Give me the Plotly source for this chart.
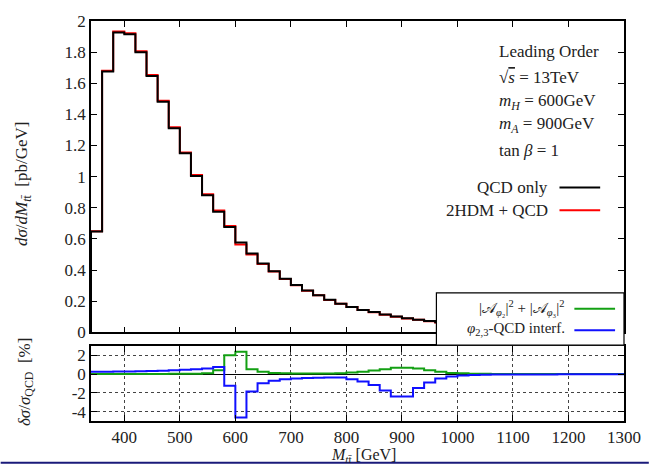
import plotly.graph_objects as go

# ---- data ----
bin_edges = [340 + 20 * k for k in range(49)]
qcd_only = [0.647, 1.676, 1.926, 1.915, 1.800, 1.647, 1.482, 1.311, 1.150, 1.004,
            0.880, 0.774, 0.677, 0.577, 0.507, 0.442, 0.393, 0.344, 0.304, 0.268,
            0.239, 0.209, 0.184, 0.163, 0.144, 0.130, 0.114, 0.101, 0.091, 0.081,
            0.072, 0.064, 0.057, 0.051, 0.045, 0.040, 0.036, 0.032, 0.028, 0.025,
            0.022, 0.020, 0.018, 0.016, 0.014, 0.012, 0.011, 0.010]
green_sq = [0.02, 0.02, 0.02, 0.02, 0.03, 0.03, 0.03, 0.04, 0.05, 0.06,
            0.10, 0.42, 2.03, 2.39, 0.53, 0.25, 0.14, 0.10, 0.08, 0.07,
            0.07, 0.08, 0.10, 0.18, 0.25, 0.39, 0.53, 0.70, 0.70, 0.60,
            0.42, 0.25, 0.14, 0.10, 0.06, 0.04,
            0.03, 0.03, 0.02, 0.02, 0.02, 0.02, 0.01, 0.01, 0.01, 0.01, 0.01, 0.01]
blue_interf = [0.25, 0.26, 0.28, 0.30, 0.32, 0.35, 0.38, 0.42, 0.47, 0.53, 0.62, 0.78,
               -1.23, -4.63, -1.86, -0.98, -0.70, -0.53, -0.45, -0.40, -0.37, -0.35, -0.36,
               -0.53, -0.77, -1.16, -1.75, -2.39, -2.39, -1.47, -0.88, -0.46, -0.25, -0.14, -0.08, -0.05,
               -0.04, -0.03, -0.03, -0.02, -0.02, -0.02, -0.01, -0.01, -0.01, -0.01, -0.01, 0.0]
two_hdm = [q * (1 + (g + b) / 100.0) for q, g, b in zip(qcd_only, green_sq, blue_interf)]

x_ticks = [400, 500, 600, 700, 800, 900, 1000, 1100, 1200, 1300]
y_ticks_top = [0, 0.2, 0.4, 0.6, 0.8, 1, 1.2, 1.4, 1.6, 1.8, 2]
y_ticks_bot = [2, 0, -2, -4]
y_ticklabels_bot = ["2", "0", "-2", "-4"]

FONT = "Liberation Serif"
TXT = "#222222"

# ---- geometry helpers (pixels -> paper) ----
L, R, T, B = 91, 25, 15, 44
W, H = 653, 465
PW, PH = W - L - R, H - T - B
def px(x):
    return (x - L) / PW
def py(y):
    return (H - B - y) / PH

def step(vals, start_zero=False):
    xs = list(bin_edges)
    ys = list(vals) + [vals[-1]]
    if start_zero:
        xs = [bin_edges[0]] + xs
        ys = [0] + ys
    return xs, ys

fig = go.Figure()
xr, yr = step(two_hdm, True)
fig.add_trace(go.Scatter(x=xr, y=yr, mode="lines", line=dict(color="#ff0000", width=2, shape="hv"),
                         xaxis="x", yaxis="y", showlegend=False))
xb, yb = step(qcd_only, True)
fig.add_trace(go.Scatter(x=xb, y=yb, mode="lines", line=dict(color="#000000", width=2, shape="hv"),
                         xaxis="x", yaxis="y", showlegend=False))
xg, yg = step(green_sq)
fig.add_trace(go.Scatter(x=xg, y=yg, mode="lines", line=dict(color="#13a013", width=2, shape="hv"),
                         xaxis="x2", yaxis="y2", showlegend=False))
xbl, ybl = step(blue_interf)
fig.add_trace(go.Scatter(x=xbl, y=ybl, mode="lines", line=dict(color="#1010ff", width=2, shape="hv"),
                         xaxis="x2", yaxis="y2", showlegend=False))

top_dom = [py(331), 1.0]
bot_dom = [0.0, py(345)]

axcommon = dict(showline=True, linecolor="black", linewidth=1.5, mirror="ticks",
                ticks="inside", ticklen=6, tickcolor="black", tickwidth=1,
                tickfont=dict(family=FONT, size=17, color=TXT))

fig.update_layout(
    width=W, height=H, margin=dict(l=L, r=R, t=T, b=B),
    paper_bgcolor="white", plot_bgcolor="white",
    xaxis=dict(domain=[0, 1], range=[340, 1300], tickvals=x_ticks, showticklabels=False,
               anchor="y", showgrid=False, zeroline=False, **axcommon),
    yaxis=dict(domain=top_dom, range=[0, 2], tickvals=y_ticks_top, anchor="x",
               showgrid=False, zeroline=False, **axcommon),
    xaxis2=dict(domain=[0, 1], range=[340, 1300], tickvals=x_ticks, anchor="y2",
                showgrid=True, griddash="dot", gridcolor="#444444", gridwidth=1,
                zeroline=False, **axcommon),
    yaxis2=dict(domain=bot_dom, range=[-5, 3], tickvals=y_ticks_bot, ticktext=y_ticklabels_bot,
                anchor="x2", showgrid=True, griddash="dot", gridcolor="#444444", gridwidth=1,
                zeroline=True, zerolinecolor="black", zerolinewidth=1, **axcommon),
)

shapes = []
annots = []
# lower legend box
shapes.append(dict(type="rect", xref="paper", yref="paper", x0=px(439), x1=px(628), y0=py(344), y1=py(291),
                   fillcolor="white", line=dict(color="black", width=1.2), layer="above"))
# legend sample lines
for yy, col in [(184, "black"), (207, "#ff0000")]:
    shapes.append(dict(type="line", xref="paper", yref="paper", x0=px(563), x1=px(604), y0=py(yy), y1=py(yy),
                       line=dict(color=col, width=2), layer="above"))
for yy, col in [(307, "#13a013"), (329, "#1010ff")]:
    shapes.append(dict(type="line", xref="paper", yref="paper", x0=px(578), x1=px(619), y0=py(yy), y1=py(yy),
                       line=dict(color=col, width=2), layer="above"))
# page border line at bottom
shapes.append(dict(type="line", xref="paper", yref="paper", x0=px(0), x1=px(653), y0=py(463.5), y1=py(463.5),
                   line=dict(color="#1a1a7a", width=2), layer="above"))

def ann(text, x, y, xanchor="left", size=17, angle=0):
    annots.append(dict(text=text, xref="paper", yref="paper", x=px(x), y=py(y), xanchor=xanchor,
                       yanchor="middle", showarrow=False, textangle=angle,
                       font=dict(family=FONT, size=size, color=TXT)))

ann("Leading Order", 500, 46)
ann("√<span style='text-decoration:overline'><i>s</i></span> = 13TeV", 500, 72)
ann("<i>m</i><sub><i>H</i></sub> = 600GeV", 500, 97)
ann("<i>m</i><sub><i>A</i></sub> = 900GeV", 500, 121)
ann("tan <i>β</i> = 1", 500, 146)
ann("QCD only", 553, 184, "right")
ann("2HDM + QCD", 553, 207, "right")
ann("|𝒜<sub><i>φ</i>₂</sub>|<sup>2</sup> + |𝒜<sub><i>φ</i>₃</sub>|<sup>2</sup>", 570, 306, "right", 15)
ann("<i>φ</i><sub>2,3</sub>-QCD interf.", 571, 328, "right", 15)
ann("<i>dσ</i>/<i>dM</i><sub><i>t</i>t̄</sub>  [pb/GeV]", 22, 180, "center", 17, -90)
ann("<i>δσ</i>/<i>σ</i><sub>QCD</sub>  [%]", 25, 381, "center", 17, -90)
ann("<i>M</i><sub><i>t</i>t̄</sub> [GeV]", 366, 456, "center", 16)

fig.update_layout(shapes=shapes, annotations=annots)
fig.write_html("out.html")
